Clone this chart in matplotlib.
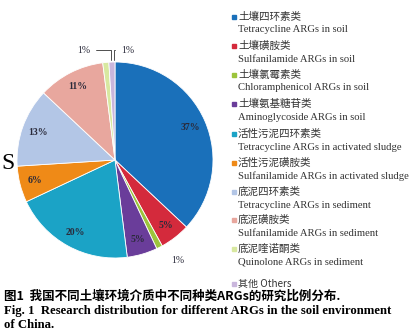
import matplotlib.pyplot as plt
from matplotlib.patches import Rectangle
import numpy as np

# data
shares = [37, 5, 1, 5, 20, 6, 13, 11, 1, 1]
names_cn = ['土壤四环素类', '土壤磺胺类', '土壤氯霉素类', '土壤氨基糖苷类',
            '活性污泥四环素类', '活性污泥磺胺类', '底泥四环素类', '底泥磺胺类',
            '底泥喹诺酮类', '其他']
names_en = ['Tetracycline ARGs in soil', 'Sulfanilamide ARGs in soil',
            'Chloramphenicol ARGs in soil', 'Aminoglycoside ARGs in soil',
            'Tetracycline ARGs in activated sludge', 'Sulfanilamide ARGs in activated sludge',
            'Tetracycline ARGs in sediment', 'Sulfanilamide ARGs in sediment',
            'Quinolone ARGs in sediment', 'Others']
colors = ['#1a70ba', '#d42a3c', '#9cc43c', '#6a3d9a', '#1ba3c6',
          '#ef8a17', '#b3c6e6', '#e8a79e', '#d8e8a0', '#c9b6dc']

W, H = 414, 336
fig = plt.figure(figsize=(W / 100, H / 100), dpi=100)

serif = ['Liberation Serif', 'Noto Sans CJK SC']
cjk = ['Noto Sans CJK SC', 'Liberation Serif']

# pie
cx, cy, r = 115, 160, 98
ax = fig.add_axes([(cx - r) / W, (H - cy - r) / H, 2 * r / W, 2 * r / H])
wedges, _ = ax.pie(shares, colors=colors, startangle=90, counterclock=False,
                   wedgeprops=dict(edgecolor='white', linewidth=0.6))
ax.set_xlim(-1, 1)
ax.set_ylim(-1, 1)
ax.set_aspect('auto')

ang = 90.0
for i, s in enumerate(shares):
    mid = np.deg2rad(ang - s * 3.6 / 2)
    ang -= s * 3.6
    if s > 2:
        ax.text(0.84 * np.cos(mid), 0.84 * np.sin(mid), f'{s}%', ha='center', va='center',
                fontsize=7, color='#2a2a3a', family=serif, fontweight='bold')

# small slices
mid2 = np.deg2rad(90 - 3.6 * 42.5)
ax.text(1.08 * np.cos(mid2) + 0.15, 1.08 * np.sin(mid2) - 0.06, '1%', ha='center', va='center',
        fontsize=7, color='#2a2a3a', family=serif)
ax.annotate('1%', xy=(-0.04, 0.99), xytext=(-0.25, 1.12), ha='right', va='center',
            fontsize=7, color='#2a2a3a', family=serif,
            arrowprops=dict(arrowstyle='-', color='#333333', lw=0.6,
                            connectionstyle='angle,angleA=0,angleB=90,rad=0'))
ax.annotate('1%', xy=(-0.01, 0.99), xytext=(0.06, 1.12), ha='left', va='center',
            fontsize=7, color='#2a2a3a', family=serif,
            arrowprops=dict(arrowstyle='-', color='#333333', lw=0.6,
                            connectionstyle='angle,angleA=0,angleB=90,rad=0'))

# stray letter at left edge
fig.text(1 / W, 1 - 163 / H, 'S', fontsize=17, family=serif, va='center', ha='left')

# legend
ys = [17, 46, 75, 104, 134, 163, 192, 220, 249, 284]
for i in range(10):
    y = ys[i]
    fig.patches.append(Rectangle((232 / W, 1 - (y + 2) / H), 4 / W, 4 / H,
                                 transform=fig.transFigure, color=colors[i]))
    if i < 9:
        fig.text(238 / W, 1 - y / H, names_cn[i], fontsize=7.6, family=cjk,
                 color='#333333', va='center', ha='left')
        fig.text(238 / W, 1 - (y + 13) / H, names_en[i], fontsize=7.7, family=serif,
                 color='#333333', va='center', ha='left')
    else:
        fig.text(238 / W, 1 - y / H, names_cn[i] + ' ' + names_en[i], fontsize=7.2,
                 family=cjk, color='#333333', va='center', ha='left')

# caption
fig.text(4 / W, 1 - 296 / H, '图1  我国不同土壤环境介质中不同种类ARGs的研究比例分布.',
         fontsize=9, family=cjk, fontweight='bold', va='center', ha='left')
fig.text(4 / W, 1 - 311 / H,
         'Fig. 1  Research distribution for different ARGs in the soil environment',
         fontsize=9.2, family=serif, fontweight='bold', va='center', ha='left')
fig.text(4 / W, 1 - 325 / H, 'of China.', fontsize=9.2, family=serif,
         fontweight='bold', va='center', ha='left')

fig.savefig('out.png', dpi=100)
